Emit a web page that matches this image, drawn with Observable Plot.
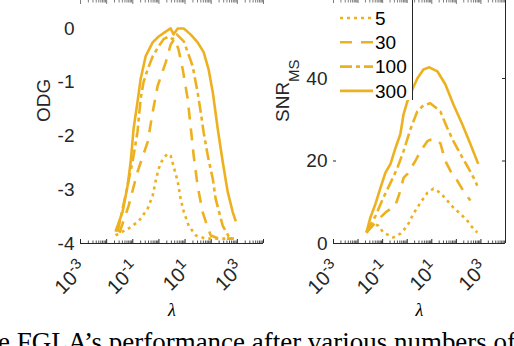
<!DOCTYPE html>
<html>
<head>
<meta charset="utf-8">
<script src="https://cdn.jsdelivr.net/npm/d3@7"></script>
<script src="https://cdn.jsdelivr.net/npm/@observablehq/plot@0.6"></script>
<style>
  html, body { margin: 0; padding: 0; background: #fff; }
  #wrap { position: relative; width: 514px; height: 346px; overflow: hidden; background: #fff; }
  #wrap > svg { position: absolute; left: 0; top: 0; }
</style>
</head>
<body>
<div id="wrap"></div>
<script>
// ---------------- data ----------------
const iterations = ["5", "30", "100", "300"];
const lambdaTicks = [1e-3, 1e-1, 1e1, 1e3];
const lambdaTickLabels = ["10^-3", "10^-1", "10^1", "10^3"];
const odgTicks = [-4, -3, -2, -1, 0];
const snrTicks = [0, 20, 40];

// Left panel: ODG vs lambda
const odgLambda5 = [0.0219, 0.0692, 0.166, 0.372, 0.575, 0.741, 0.977, 1.38, 2.14, 2.82, 3.63, 5.25, 6.76, 8.91, 13.8, 25.7, 61.7, 195, 661];
const odg5 = [-3.85, -3.72, -3.59, -3.35, -3.11, -2.85, -2.61, -2.43, -2.33, -2.37, -2.56, -2.85, -3.17, -3.41, -3.67, -3.85, -3.91, -3.91, -3.91];
const odgLambda30 = [0.0309, 0.0692, 0.151, 0.372, 0.575, 0.891, 1.82, 2.82, 3.98, 5.62, 8.13, 12.6, 16.2, 21.4, 30.2, 46.8, 61.7, 95.5, 195, 724];
const odg30 = [-3.80, -3.30, -2.67, -2.11, -1.56, -1.07, -0.63, -0.30, -0.19, -0.39, -0.76, -1.31, -1.81, -2.37, -2.93, -3.41, -3.59, -3.85, -3.91, -3.91];
const odgLambda100 = [0.0263, 0.0525, 0.0977, 0.151, 0.200, 0.257, 0.372, 0.575, 0.977, 1.51, 2.34, 3.31, 4.79, 8.91, 12.6, 19.5, 30.2, 39.8, 51.3, 74.1, 115, 148, 275, 468, 724];
const odg100 = [-3.78, -3.11, -2.48, -1.93, -1.31, -1.00, -0.76, -0.52, -0.33, -0.20, -0.15, -0.20, -0.11, -0.24, -0.44, -0.70, -1.19, -1.56, -1.93, -2.37, -2.80, -3.17, -3.67, -3.87, -3.91];
const odgLambda300 = [0.0219, 0.0407, 0.0631, 0.0832, 0.107, 0.151, 0.200, 0.309, 0.575, 0.977, 1.82, 2.82, 3.63, 5.25, 8.91, 16.2, 30.2, 51.3, 79.4, 115, 178, 275, 427, 661, 871];
const odg300 = [-3.78, -3.41, -2.93, -2.48, -1.87, -1.37, -0.94, -0.52, -0.26, -0.15, -0.06, 0, -0.11, 0, 0, -0.11, -0.26, -0.44, -0.76, -1.19, -1.87, -2.48, -3.04, -3.41, -3.59];

// Right panel: SNR_MS vs lambda
const snrLambda5 = [0.0219, 0.0427, 0.0676, 0.107, 0.275, 0.525, 1.02, 1.78, 3.47, 6.61, 11.7, 22.4, 42.7, 75.9, 145, 282, 447, 708];
const snr5 = [2.65, 4.8, 4.3, 2.65, 1.45, 2.4, 4.3, 7.2, 9.9, 12.3, 13.3, 12.3, 10.4, 8.7, 7.2, 5.5, 3.9, 2.65];
const snrLambda30 = [0.0219, 0.0513, 0.129, 0.331, 0.525, 0.708, 1.02, 2.14, 3.47, 6.61, 11.7, 22.4, 35.5, 57.5, 110, 191, 372];
const snr30 = [2.65, 5.1, 7.5, 9.2, 12.8, 15.9, 16.9, 20.0, 22.4, 24.8, 25.5, 24.3, 20.0, 17.6, 15.2, 12.8, 10.4];
const snrLambda100 = [0.0219, 0.0513, 0.107, 0.209, 0.398, 0.708, 1.35, 2.57, 4.57, 8.71, 22.4, 42.7, 75.9, 145, 309, 589, 708];
const snr100 = [2.65, 6.7, 11.1, 14.7, 18.3, 22.4, 27.7, 32.0, 33.5, 34.0, 32.0, 28.0, 24.8, 21.7, 18.3, 15.2, 14.0];
const snrLambda300 = [0.0219, 0.0316, 0.0513, 0.0813, 0.129, 0.209, 0.331, 0.525, 0.708, 1.02, 1.62, 2.57, 4.57, 7.94, 17.0, 35.5, 75.9, 174, 372, 776];
const snr300 = [2.65, 6.27, 9.64, 13.5, 17.1, 19.3, 23.1, 26.5, 31.3, 34.5, 37.3, 40.0, 42.2, 42.7, 41.7, 38.6, 33.7, 28.9, 24.1, 19.3];

const captionText = "e FGLA\u2019s performance after various numbers of";

// ---------------- styling ----------------
const INK = "#262626";
const GOLD = "#EDB120";
const SANS = "'Liberation Sans', Arial, Helvetica, sans-serif";
const SERIF = "'Liberation Serif', 'Times New Roman', serif";
const dash = {"5": "3,4", "30": "12,9", "100": "12,4,4,4", "300": null};
const W = 514, H = 300, PLOT_BOTTOM = 243;
const svgNS = "http://www.w3.org/2000/svg";

function rows(lams, vals, it) { return lams.map((l, i) => ({lambda: l, value: vals[i], it})); }
const odgSeries = {"5": rows(odgLambda5, odg5, "5"), "30": rows(odgLambda30, odg30, "30"), "100": rows(odgLambda100, odg100, "100"), "300": rows(odgLambda300, odg300, "300")};
const snrSeries = {"5": rows(snrLambda5, snr5, "5"), "30": rows(snrLambda30, snr30, "30"), "100": rows(snrLambda100, snr100, "100"), "300": rows(snrLambda300, snr300, "300")};

const allX = d3.scaleLog().domain([1e-3, 1e4]).ticks();
const majorX = allX.filter(v => Math.abs(Math.log10(v) - Math.round(Math.log10(v))) < 1e-9);
const minorX = allX.filter(v => !majorX.includes(v));

function panel({series, yDomain, yTicks, mL, mR, yLabel, yLabelDx, boxRight, yTickMarks}) {
  const plotW = W - mL - mR, plotH = PLOT_BOTTOM;
  const marks = [
    Plot.ruleY([yDomain[0]], {stroke: INK, strokeWidth: 1}),
    Plot.tickX(majorX, {stroke: INK, insetTop: plotH - 4}),
    Plot.tickX(minorX, {stroke: INK, insetTop: plotH - 2.5, strokeOpacity: 0.8}),
    Plot.tickX(majorX, {stroke: INK, insetBottom: plotH - 4, strokeOpacity: 0.6}),
    Plot.tickX(minorX, {stroke: INK, insetBottom: plotH - 2.5, strokeOpacity: 0.6}),
    Plot.axisX(lambdaTicks, {tickSize: 0, tickPadding: 22, tickRotate: -45, dx: 3,
      tickFormat: d => lambdaTickLabels[lambdaTicks.indexOf(d)], fontSize: 20, fontFamily: SANS, fill: INK, label: null}),
    Plot.axisY(yTicks, {tickSize: 0, tickPadding: 6, tickFormat: d => String(d), fontSize: 19, fontFamily: SANS, fill: INK, label: null}),
    Plot.text(["\u03BB"], {frameAnchor: "bottom", dy: 72, fontFamily: SERIF, fontStyle: "italic", fontSize: 18, fill: "#000"}),
    Plot.text([yLabel], {frameAnchor: "left", dx: yLabelDx, rotate: -90, fontSize: 19, fontFamily: SANS, fill: INK})
  ];
  if (yTickMarks) {
    marks.push(Plot.tickY(yTicks, {stroke: INK, insetRight: plotW - 3}));
    marks.push(Plot.tickY(yTicks, {stroke: INK, insetLeft: plotW - 3}));
  }
  if (boxRight) marks.push(Plot.ruleX([1e4], {stroke: INK, strokeWidth: 1}));
  for (const it of iterations) {
    marks.push(Plot.line(series[it], {x: "lambda", y: "value", stroke: GOLD, strokeWidth: 2.6,
      strokeDasharray: dash[it], strokeLinejoin: "round", strokeLinecap: "butt"}));
  }
  const svg = Plot.plot({
    width: W, height: H, marginTop: 0, marginBottom: H - PLOT_BOTTOM, marginLeft: mL, marginRight: mR,
    x: {type: "log", domain: [1e-3, 1e4]},
    y: {domain: yDomain},
    style: {background: "transparent", overflow: "visible", fontFamily: SANS, color: INK},
    marks
  });
  // superscripts / subscripts
  svg.querySelectorAll("text").forEach(t => {
    const s = t.textContent;
    let m = s.match(/^10\^(-?\d+)$/);
    if (m) {
      t.textContent = "10";
      const ts = document.createElementNS(svgNS, "tspan");
      ts.setAttribute("dy", "-8");
      ts.setAttribute("font-size", "15");
      ts.textContent = m[1];
      t.appendChild(ts);
    } else if (s === "SNR_MS") {
      t.textContent = "SNR";
      const ts = document.createElementNS(svgNS, "tspan");
      ts.setAttribute("dy", "10");
      ts.setAttribute("font-size", "15");
      ts.textContent = "MS";
      t.appendChild(ts);
    }
  });
  return svg;
}

const wrap = document.getElementById("wrap");
wrap.appendChild(panel({series: odgSeries, yDomain: [-4, 0.52], yTicks: odgTicks, mL: 80, mR: W - 263, yLabel: "ODG", yLabelDx: -37, boxRight: false, yTickMarks: false}));
wrap.appendChild(panel({series: snrSeries, yDomain: [0, 58.9], yTicks: snrTicks, mL: 333, mR: W - 505, yLabel: "SNR_MS", yLabelDx: -51, boxRight: true, yTickMarks: true}));

// legend (drawn over the right panel, MATLAB style with white background)
const leg = d3.create("svg").attr("width", 90).attr("height", 97)
  .style("position", "absolute").style("left", "333px").style("top", "3px").style("overflow", "visible");
leg.append("rect").attr("width", 79.5).attr("height", 97).attr("fill", "#fff");
leg.append("line").attr("x1", 79.5).attr("x2", 79.5).attr("y1", -3).attr("y2", 97).attr("stroke", INK);
iterations.forEach((it, i) => {
  const y = 15 + i * 24.3;
  leg.append("line").attr("x1", 7).attr("x2", 40).attr("y1", y).attr("y2", y)
    .attr("stroke", GOLD).attr("stroke-width", 2.6).attr("stroke-dasharray", dash[it]);
  leg.append("text").attr("x", 42).attr("y", y).attr("dy", "0.35em")
    .attr("font-family", SANS).attr("font-size", 19).attr("fill", "#000").text(it);
});
wrap.appendChild(leg.node());

// caption (cut off by the bottom edge, as in the reference)
const cap = d3.create("svg").attr("width", W).attr("height", 346)
  .style("position", "absolute").style("left", "0px").style("top", "0px");
cap.append("text").attr("x", -2).attr("y", 351).attr("font-family", SERIF).attr("font-size", 27)
  .attr("fill", "#000").attr("textLength", 518).attr("lengthAdjust", "spacingAndGlyphs").text(captionText);
wrap.appendChild(cap.node());
</script>
</body>
</html>
